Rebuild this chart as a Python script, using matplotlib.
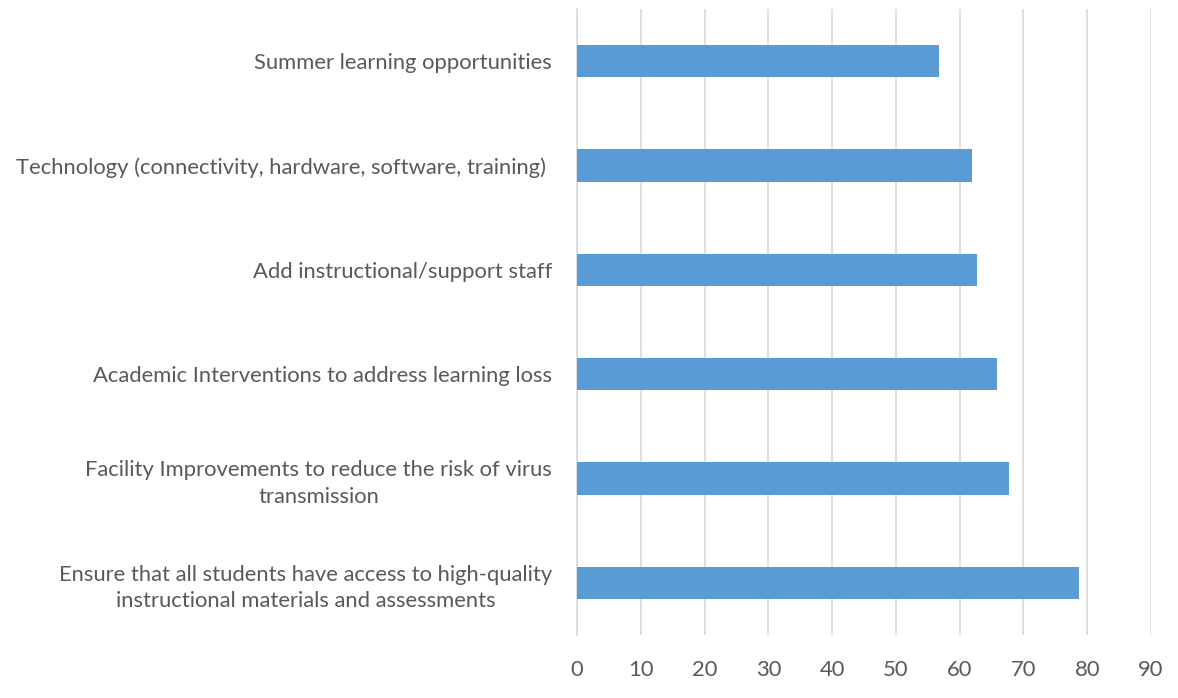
import numpy as np
import matplotlib.pyplot as plt

# Data (top to bottom)
categories = [
    "Summer learning opportunities",
    "Technology (connectivity, hardware, software, training) ",
    "Add instructional/support staff",
    "Academic Interventions to address learning loss",
    "Facility Improvements to reduce the risk of virus\ntransmission",
    "Ensure that all students have access to high-quality\ninstructional materials and assessments",
]
values = [56.8, 61.9, 62.8, 65.9, 67.8, 78.8]
x_ticks = [0, 10, 20, 30, 40, 50, 60, 70, 80, 90]

plt.rcParams['font.family'] = ['Lato', 'DejaVu Sans']

fig = plt.figure(figsize=(11.78, 6.98), dpi=100)
ax = fig.add_axes([0.4898, 0.0903, 0.977 - 0.4898, 0.987 - 0.0903])

y = np.arange(len(categories))
ax.barh(y, values, height=0.31, color='#5b9bd5', zorder=3)

ax.set_ylim(len(categories) - 0.5, -0.5)
ax.set_xlim(0, 90)
ax.set_xticks(x_ticks)
ax.set_yticks(y)
ax.set_yticklabels(categories, multialignment='center', linespacing=1.4)

ax.grid(axis='x', color='#d9d9d9', linewidth=1.2, zorder=0)
for s in ['top', 'right', 'bottom']:
    ax.spines[s].set_visible(False)
ax.spines['left'].set_color('#d9d9d9')
ax.spines['left'].set_linewidth(1.2)

ax.tick_params(axis='y', length=0, labelcolor='#595959', labelsize=15.8, pad=18)
ax.tick_params(axis='x', length=0, labelcolor='#595959', labelsize=15.8, pad=18)

fig.savefig('out.png', dpi=100)
